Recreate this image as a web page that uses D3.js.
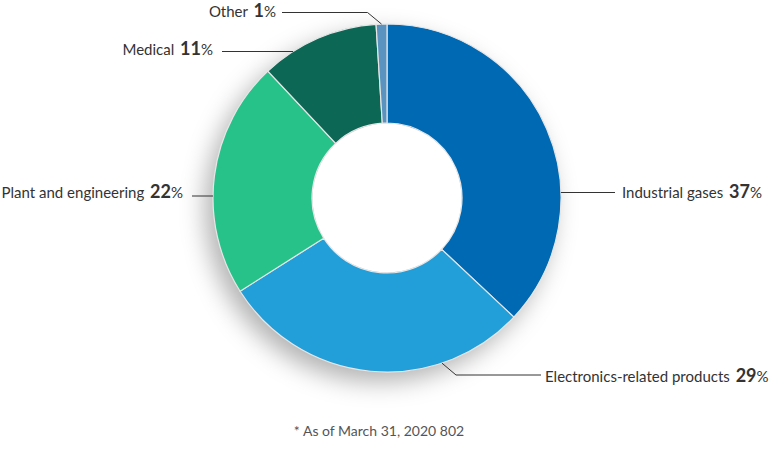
<!DOCTYPE html>
<html>
<head>
<meta charset="utf-8">
<script src="https://cdn.jsdelivr.net/npm/d3@7"></script>
<style>
  html, body { margin: 0; padding: 0; background: #fff; }
  svg { display: block; font-family: Lato, "Noto Sans", sans-serif; }
</style>
</head>
<body>
<svg id="chart" width="772" height="450"></svg>
<script>
// ---- data ----
const categories = ["Industrial gases", "Electronics-related products", "Plant and engineering", "Medical", "Other"];
const shares = [37, 29, 22, 11, 1];
const colors = ["#0069b4", "#229ed9", "#27c28a", "#0d6755", "#5a93bf"];
const footnote = "* As of March 31, 2020 802";

// ---- layout ----
const W = 772, H = 450;
const cx = 387, cy = 198, R = 174, r = 75;
const labelLayout = [
  { side: "right", lineY: 192.5, baseY: 198, textX: 622, lineX: 615 },
  { side: "right", angleDeg: 161.6, elbow: [456, 375], baseY: 382, textX: 545, lineX: 541 },
  { side: "left", lineY: 196, baseY: 198, textX: 183, lineX: 192 },
  { side: "left", lineY: 51.5, baseY: 55, textX: 213, lineX: 222 },
  { side: "left", useCentroid: true, elbowDX: -14, lineY: 12.5, baseY: 17, textX: 276, lineX: 282 }
];

const svg = d3.select("#chart");
const defs = svg.append("defs");
const f = defs.append("filter").attr("id", "shadow").attr("x", "-50%").attr("y", "-50%").attr("width", "200%").attr("height", "200%");
f.append("feGaussianBlur").attr("stdDeviation", 12);

const g = svg.append("g").attr("transform", `translate(${cx},${cy})`);

// shadow disk
g.append("circle").attr("cx", -8).attr("cy", 10).attr("r", R)
  .attr("fill", "rgba(0,0,0,0.3)").attr("filter", "url(#shadow)");

const pie = d3.pie().sort(null).value(d => d).startAngle(0).endAngle(2 * Math.PI);
const arcs = pie(shares);
const arc = d3.arc().innerRadius(r).outerRadius(R);

g.selectAll("path.slice").data(arcs).join("path")
  .attr("class", "slice")
  .attr("d", arc)
  .attr("fill", (d, i) => colors[i])
  .attr("stroke", "#e6e6e6")
  .attr("stroke-width", 1.2);

g.append("circle").attr("r", r - 0.5).attr("fill", "#fff");

// leader lines + labels
const pt = a => [cx + R * Math.sin(a), cy - R * Math.cos(a)];
const lines = svg.append("g").attr("fill", "none").attr("stroke", "#333").attr("stroke-width", 1);
const texts = svg.append("g").attr("fill", "#333");

arcs.forEach((d, i) => {
  const L = labelLayout[i];
  let pts;
  if (L.useCentroid) {
    const a = (d.startAngle + d.endAngle) / 2;
    const p = pt(a);
    pts = [[L.lineX, L.lineY], [p[0] + L.elbowDX, L.lineY], p];
  } else if (L.angleDeg !== undefined) {
    const p = pt(L.angleDeg * Math.PI / 180);
    pts = [p, L.elbow, [L.lineX, L.elbow[1]]];
  } else {
    const dy = L.lineY - cy;
    const dx = Math.sqrt(R * R - dy * dy);
    const x0 = L.side === "right" ? cx + dx : cx - dx;
    pts = [[x0, L.lineY], [L.lineX, L.lineY]];
  }
  lines.append("path").attr("d", d3.line()(pts));

  const t = texts.append("text")
    .attr("x", L.textX).attr("y", L.baseY)
    .attr("text-anchor", L.side === "right" ? "start" : "end");
  t.append("tspan").attr("font-size", 15).text(categories[i] + " ");
  t.append("tspan").attr("font-size", 18).attr("font-weight", "bold").attr("dx", 2).text(shares[i]);
  t.append("tspan").attr("font-size", 15).text("%");
});

svg.append("text").attr("x", 379).attr("y", 436).attr("text-anchor", "middle")
  .attr("font-size", 14).attr("fill", "#555").text(footnote);
</script>
</body>
</html>
